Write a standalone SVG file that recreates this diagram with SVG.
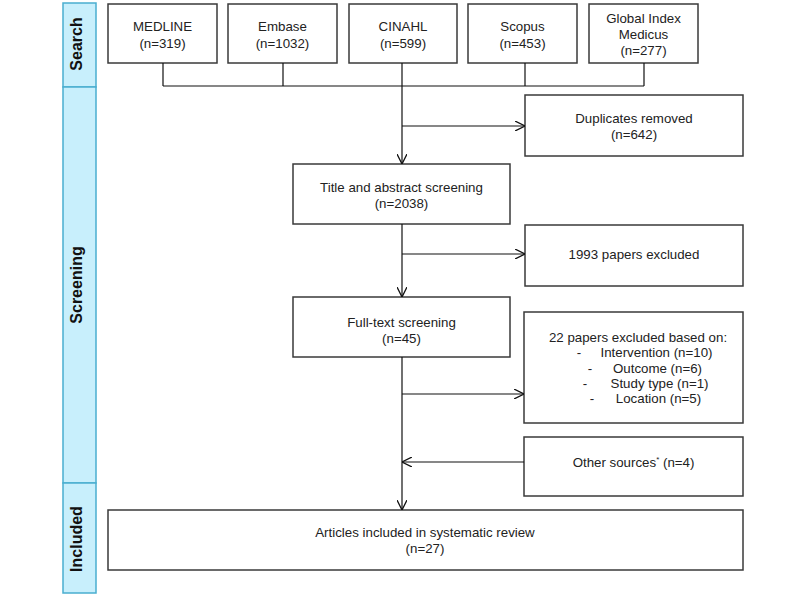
<svg xmlns="http://www.w3.org/2000/svg" width="800" height="598" viewBox="0 0 800 598">
<style>
.box{fill:#fff;stroke:#3a3a3a;stroke-width:1.5}
.bar{fill:#c8effc;stroke:#4aaed0;stroke-width:1.5}
.t{font-family:"Liberation Sans",Arial,sans-serif;font-size:13.3px;fill:#222;text-anchor:middle}
.s{font-family:"Liberation Sans",Arial,sans-serif;font-size:16px;font-weight:bold;fill:#111;text-anchor:middle}
.c{fill:none;stroke:#111;stroke-width:1.2}
</style>
<defs>
<marker id="ah" viewBox="0 0 10 10" refX="10" refY="5" markerWidth="10" markerHeight="10" markerUnits="userSpaceOnUse" orient="auto">
<path d="M0,0 L10,5 L0,10" fill="none" stroke="#111" stroke-width="1.3"/>
</marker>
</defs>
<g id="bar-search"><rect class="bar" x="63" y="3" width="33" height="84"/><text class="s" transform="translate(82,44) rotate(-90)">Search</text></g>
<g id="bar-screening"><rect class="bar" x="63" y="87" width="33" height="396"/><text class="s" transform="translate(82,285) rotate(-90)">Screening</text></g>
<g id="bar-included"><rect class="bar" x="63" y="483" width="33" height="110"/><text class="s" transform="translate(82,539) rotate(-90)">Included</text></g>

<g id="medline"><rect class="box" x="108" y="4" width="109" height="59"/><text class="t" x="162.5" y="31">MEDLINE</text><text class="t" x="162.5" y="47.5">(n=319)</text></g>
<g id="embase"><rect class="box" x="228" y="4" width="109" height="59"/><text class="t" x="282.5" y="31">Embase</text><text class="t" x="282.5" y="47.5">(n=1032)</text></g>
<g id="cinahl"><rect class="box" x="349" y="4" width="108" height="59"/><text class="t" x="403" y="31">CINAHL</text><text class="t" x="403" y="47.5">(n=599)</text></g>
<g id="scopus"><rect class="box" x="468" y="4" width="109" height="59"/><text class="t" x="522.5" y="31">Scopus</text><text class="t" x="522.5" y="47.5">(n=453)</text></g>
<g id="gim"><rect class="box" x="589" y="4" width="109" height="59"/><text class="t" x="643.5" y="23">Global Index</text><text class="t" x="643.5" y="39">Medicus</text><text class="t" x="643.5" y="55">(n=277)</text></g>

<g id="duplicates"><rect class="box" x="525" y="95" width="218" height="61"/><text class="t" x="634" y="123">Duplicates removed</text><text class="t" x="634" y="139">(n=642)</text></g>
<g id="title"><rect class="box" x="293" y="164" width="217" height="60"/><text class="t" x="401.5" y="191.5">Title and abstract screening</text><text class="t" x="401.5" y="207.5">(n=2038)</text></g>
<g id="excluded1"><rect class="box" x="525" y="225" width="218" height="61"/><text class="t" x="634" y="259">1993 papers excluded</text></g>
<g id="fulltext"><rect class="box" x="293" y="297" width="217" height="60"/><text class="t" x="401.5" y="327">Full-text screening</text><text class="t" x="401.5" y="343">(n=45)</text></g>
<g id="excluded2"><rect class="box" x="524" y="312" width="219" height="111"/>
<text class="t" x="638" y="342">22 papers excluded based on:</text>
<text class="t" x="579" y="357">-</text><text class="t" x="656.5" y="357">Intervention (n=10)</text>
<text class="t" x="590" y="373">-</text><text class="t" x="657.5" y="373">Outcome (n=6)</text>
<text class="t" x="585" y="388">-</text><text class="t" x="659.5" y="388">Study type (n=1)</text>
<text class="t" x="592" y="403">-</text><text class="t" x="658.5" y="403">Location (n=5)</text>
</g>
<g id="other"><rect class="box" x="524" y="437" width="219" height="59"/><text class="t" x="633.5" y="467">Other sources<tspan font-size="8" dy="-5">*</tspan><tspan dy="5"> (n=4)</tspan></text></g>
<g id="articles"><rect class="box" x="108" y="510" width="635" height="60"/><text class="t" x="425" y="537">Articles included in systematic review</text><text class="t" x="425" y="552.5">(n=27)</text></g>

<g id="connectors">
<path class="c" d="M163,63 V86 M283,63 V86 M525,63 V86 M644,63 V86 M163,86 H644 M402,63 V86"/>
<path class="c" d="M402,86 V164" marker-end="url(#ah)"/>
<path class="c" d="M402,126 H525" marker-end="url(#ah)"/>
<path class="c" d="M402,224 V297" marker-end="url(#ah)"/>
<path class="c" d="M402,254 H525" marker-end="url(#ah)"/>
<path class="c" d="M402,357 V510" marker-end="url(#ah)"/>
<path class="c" d="M402,394 H524" marker-end="url(#ah)"/>
<path class="c" d="M524,462 H402" marker-end="url(#ah)"/>
</g>
</svg>
